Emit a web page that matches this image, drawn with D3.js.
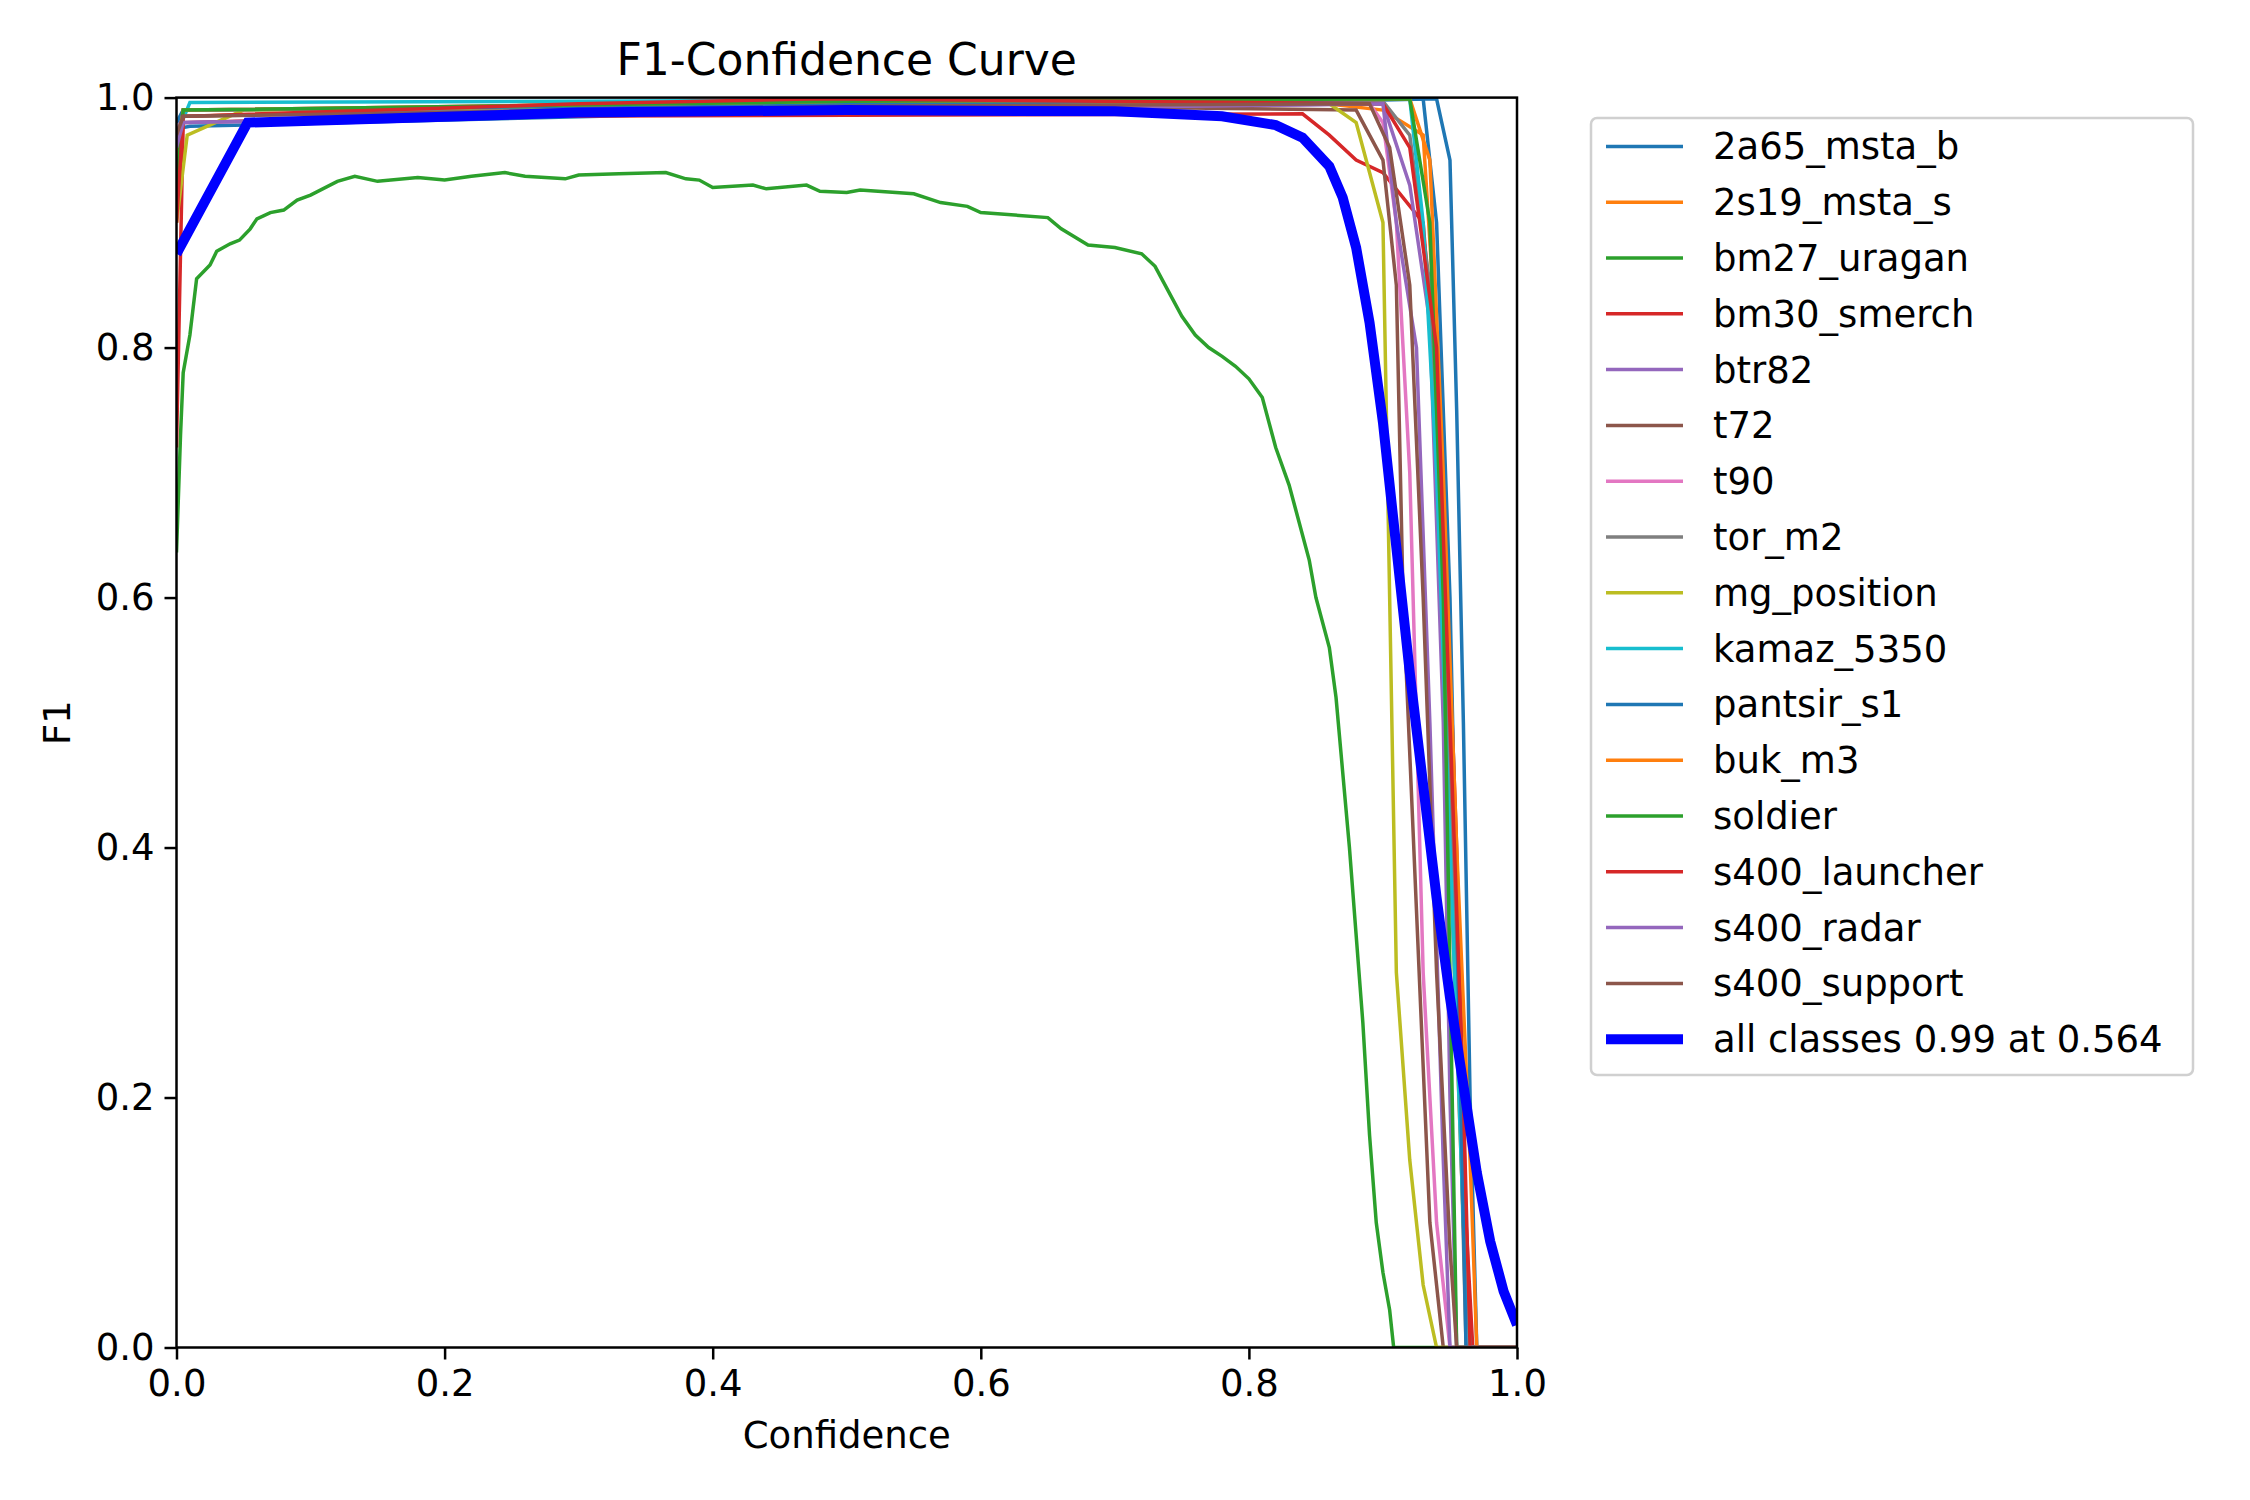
<!DOCTYPE html>
<html><head><meta charset="utf-8">
<script src="https://cdn.jsdelivr.net/npm/d3@7"></script>
<style>body{margin:0;background:#fff}text{font-family:"DejaVu Sans",sans-serif}</style>
</head><body><svg id="c" width="2250" height="1500"></svg>
<script>
const classNames = ['2a65_msta_b','2s19_msta_s','bm27_uragan','bm30_smerch','btr82','t72','t90','tor_m2',
  'mg_position','kamaz_5350','pantsir_s1','buk_m3','soldier','s400_launcher','s400_radar','s400_support'];
const colors = ['#1f77b4','#ff7f0e','#2ca02c','#d62728','#9467bd','#8c564b','#e377c2','#7f7f7f','#bcbd22','#17becf'];
const xTicks = [0, 0.2, 0.4, 0.6, 0.8, 1.0];
const yTicks = [0, 0.2, 0.4, 0.6, 0.8, 1.0];

// per-class curves: [confidence, F1]
const curves = [
  [[0,0.975],[0.01,0.977],[0.5,0.99],[0.9,0.998],[0.94,0.999],[0.95,0.95],[0.955,0.75],[0.96,0.5],[0.965,0.2],[0.97,0],[1,0]],
  [[0,0.9],[0.005,0.985],[0.3,0.993],[0.85,0.996],[0.9,0.99],[0.93,0.97],[0.94,0.8],[0.95,0.4],[0.96,0.1],[0.965,0],[1,0]],
  [[0,0.636],[0.003,0.73],[0.005,0.78],[0.01,0.81],[0.015,0.855],[0.025,0.866],[0.03,0.877],[0.04,0.883],[0.047,0.886],[0.055,0.895],[0.06,0.903],[0.07,0.908],[0.08,0.91],[0.09,0.918],[0.1,0.922],[0.12,0.933],[0.133,0.937],[0.15,0.933],[0.18,0.936],[0.2,0.934],[0.22,0.937],[0.245,0.94],[0.26,0.937],[0.29,0.935],[0.3,0.938],[0.33,0.939],[0.365,0.94],[0.38,0.935],[0.39,0.934],[0.4,0.928],[0.43,0.93],[0.44,0.927],[0.47,0.93],[0.48,0.925],[0.5,0.924],[0.51,0.926],[0.55,0.923],[0.57,0.916],[0.59,0.913],[0.6,0.908],[0.65,0.904],[0.66,0.895],[0.68,0.882],[0.7,0.88],[0.72,0.875],[0.73,0.865],[0.74,0.845],[0.75,0.825],[0.76,0.81],[0.77,0.8],[0.78,0.793],[0.79,0.785],[0.8,0.775],[0.81,0.76],[0.82,0.72],[0.83,0.69],[0.835,0.67],[0.845,0.63],[0.85,0.6],[0.86,0.56],[0.865,0.52],[0.87,0.46],[0.875,0.4],[0.88,0.33],[0.885,0.26],[0.89,0.17],[0.895,0.1],[0.9,0.06],[0.905,0.03],[0.908,0],[1,0]],
  [[0,0.72],[0.005,0.98],[0.2,0.985],[0.84,0.987],[0.86,0.97],[0.88,0.95],[0.9,0.94],[0.93,0.9],[0.945,0.7],[0.955,0.4],[0.962,0.1],[0.967,0],[1,0]],
  [[0,0.95],[0.005,0.98],[0.5,0.99],[0.9,0.995],[0.92,0.93],[0.935,0.82],[0.945,0.5],[0.95,0.2],[0.955,0],[1,0]],
  [[0,0.96],[0.005,0.99],[0.5,0.995],[0.88,0.99],[0.9,0.95],[0.91,0.85],[0.915,0.6],[0.925,0.35],[0.935,0.1],[0.945,0],[1,0]],
  [[0,0.97],[0.005,0.99],[0.5,0.997],[0.89,0.995],[0.9,0.98],[0.91,0.9],[0.92,0.7],[0.93,0.3],[0.94,0.1],[0.95,0],[1,0]],
  [[0,0.97],[0.005,0.985],[0.5,0.995],[0.9,0.997],[0.92,0.97],[0.935,0.85],[0.945,0.6],[0.955,0.3],[0.962,0],[1,0]],
  [[0,0.9],[0.008,0.97],[0.05,0.99],[0.5,0.995],[0.86,0.995],[0.88,0.98],[0.9,0.9],[0.905,0.6],[0.91,0.3],[0.92,0.15],[0.93,0.05],[0.94,0],[1,0]],
  [[0,0.97],[0.01,0.996],[0.5,0.998],[0.92,0.999],[0.93,0.9],[0.94,0.7],[0.95,0.4],[0.96,0.1],[0.965,0],[1,0]],
  [[0,0.98],[0.005,0.99],[0.5,0.995],[0.93,0.999],[0.94,0.9],[0.95,0.6],[0.958,0.2],[0.962,0],[1,0]],
  [[0,0.95],[0.005,0.99],[0.5,0.997],[0.92,0.999],[0.935,0.95],[0.945,0.7],[0.955,0.4],[0.965,0.15],[0.97,0],[1,0]],
  [[0,0.93],[0.005,0.99],[0.5,0.997],[0.92,0.999],[0.935,0.9],[0.945,0.6],[0.95,0.3],[0.955,0],[1,0]],
  [[0,0.9],[0.005,0.985],[0.3,0.995],[0.48,0.999],[0.9,0.995],[0.92,0.96],[0.94,0.8],[0.95,0.5],[0.96,0.2],[0.965,0],[1,0]],
  [[0,0.96],[0.005,0.98],[0.5,0.99],[0.9,0.995],[0.91,0.9],[0.925,0.8],[0.935,0.5],[0.945,0.15],[0.95,0],[1,0]],
  [[0,0.97],[0.005,0.985],[0.5,0.993],[0.89,0.995],[0.905,0.96],[0.92,0.85],[0.93,0.6],[0.94,0.3],[0.95,0.08],[0.955,0],[1,0]]
];
const allClasses = [[0,0.875],[0.053,0.98],[0.3,0.988],[0.5,0.99],[0.7,0.989],[0.78,0.985],[0.82,0.978],[0.84,0.968],[0.86,0.945],[0.87,0.92],[0.88,0.88],[0.89,0.82],[0.9,0.74],[0.91,0.64],[0.92,0.54],[0.93,0.45],[0.94,0.36],[0.95,0.28],[0.96,0.21],[0.97,0.14],[0.98,0.085],[0.99,0.045],[1.0,0.018]];

const svg = d3.select('#c');
const L = 176.5, R = 1517, T = 97.6, B = 1347.5;
const x = d3.scaleLinear().domain([0,1]).range([L,R]);
const y = d3.scaleLinear().domain([0,1]).range([B,T]);
const line = d3.line().x(d => x(d[0])).y(d => y(d[1]));

svg.append('defs').append('clipPath').attr('id','clip')
  .append('rect').attr('x',L).attr('y',T).attr('width',R-L).attr('height',B-T);
const g = svg.append('g').attr('clip-path','url(#clip)');
curves.forEach((c,i) => g.append('path').attr('d',line(c)).attr('fill','none')
  .attr('stroke',colors[i%10]).attr('stroke-width',3.5));
g.append('path').attr('d',line(allClasses)).attr('fill','none').attr('stroke','#0000ff').attr('stroke-width',10);

const fmt = d3.format('.1f');
svg.append('g').attr('transform',`translate(0,${B})`)
  .call(d3.axisBottom(x).tickValues(xTicks).tickFormat(fmt).tickSize(12).tickPadding(10));
svg.append('g').attr('transform',`translate(${L},0)`)
  .call(d3.axisLeft(y).tickValues(yTicks).tickFormat(fmt).tickSize(12).tickPadding(10));
svg.selectAll('.tick text').attr('font-size',37).attr('font-family','DejaVu Sans').attr('fill','#000');
svg.selectAll('.tick line').attr('stroke','#000').attr('stroke-width',2.5);
svg.selectAll('.domain').remove();
svg.append('rect').attr('x',L).attr('y',T).attr('width',R-L).attr('height',B-T)
  .attr('fill','none').attr('stroke','#000').attr('stroke-width',2.5);

svg.append('text').attr('x',(L+R)/2).attr('y',75).attr('text-anchor','middle').attr('font-size',44).text('F1-Confidence Curve');
svg.append('text').attr('x',(L+R)/2).attr('y',1448).attr('text-anchor','middle').attr('font-size',37).text('Confidence');
svg.append('text').attr('transform',`translate(70,${(T+B)/2}) rotate(-90)`).attr('text-anchor','middle').attr('font-size',37).text('F1');

const lg = svg.append('g');
lg.append('rect').attr('x',1591).attr('y',118).attr('width',602).attr('height',957).attr('rx',6)
  .attr('fill','#fff').attr('stroke','#d0d0d0').attr('stroke-width',2.5);
const entries = classNames.map((n,i) => ({n, c: colors[i%10], w: 3.5}))
  .concat([{n:'all classes 0.99 at 0.564', c:'#0000ff', w:10}]);
entries.forEach((e,i) => {
  const yy = 146.4 + i*55.8;
  lg.append('line').attr('x1',1606).attr('x2',1683).attr('y1',yy).attr('y2',yy).attr('stroke',e.c).attr('stroke-width',e.w);
  lg.append('text').attr('x',1713).attr('y',yy+13).attr('font-size',37).text(e.n);
});
</script></body></html>
